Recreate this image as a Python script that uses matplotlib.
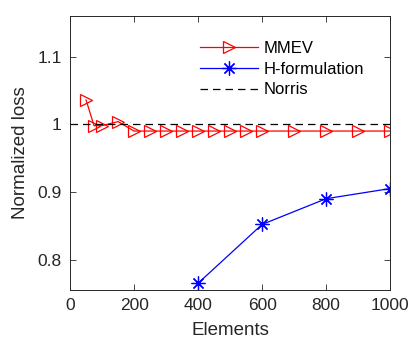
import matplotlib
matplotlib.use("Agg")
import matplotlib.pyplot as plt

plt.rcParams["font.family"] = ["Liberation Sans", "DejaVu Sans"]

# ── Data ──
mmev_x = [50, 75, 100, 150, 200, 250, 300, 350, 400, 450, 500, 550, 600, 700, 800, 900, 1000]
mmev_y = [1.036, 0.998, 0.998, 1.004, 0.990, 0.990, 0.990, 0.990, 0.990, 0.990,
          0.990, 0.990, 0.990, 0.990, 0.990, 0.990, 0.990]
hform_x = [400, 600, 800, 1000]
hform_y = [0.765, 0.852, 0.890, 0.905]
norris_x = [0, 1000]
norris_y = [1.0, 1.0]

fig = plt.figure(figsize=(4.12, 3.49), dpi=100)
ax = fig.add_axes([0.170, 0.169, 0.777, 0.785])

ax.plot(mmev_x, mmev_y, color="red", lw=0.9, marker=">", markersize=8,
        markerfacecolor="none", markeredgecolor="red", markeredgewidth=0.9, label="MMEV")
ax.plot(hform_x, hform_y, color="blue", lw=0.9, marker=(8, 2, 0), markersize=10,
        markeredgecolor="blue", markeredgewidth=0.9, label="H-formulation")
ax.plot(norris_x, norris_y, color="black", lw=0.9, linestyle=(0, (6, 4)), label="Norris")

ax.set_xlim(0, 1000)
ax.set_ylim(0.755, 1.16)
ax.set_xticks([0, 200, 400, 600, 800, 1000])
ax.set_yticks([0.8, 0.9, 1.0, 1.1])
ax.set_yticklabels(["0.8", "0.9", "1", "1.1"])
ax.tick_params(direction="in", top=True, right=True, labelsize=12.5, length=4,
               width=0.6, pad=6, colors="#262626", labelcolor="#262626")
for s in ax.spines.values():
    s.set_linewidth(0.7)
    s.set_color("#262626")

ax.set_xlabel("Elements", fontsize=13.5, color="#262626", labelpad=6)
ax.set_ylabel("Normalized loss", fontsize=13.5, color="#262626", labelpad=6)

leg = ax.legend(loc="upper left", bbox_to_anchor=(0.449, 0.926),
                bbox_transform=fig.transFigure, frameon=False,
                fontsize=12, handlelength=3.5, handletextpad=0.3, labelspacing=0.35)

fig.savefig("out.png", dpi=100)
